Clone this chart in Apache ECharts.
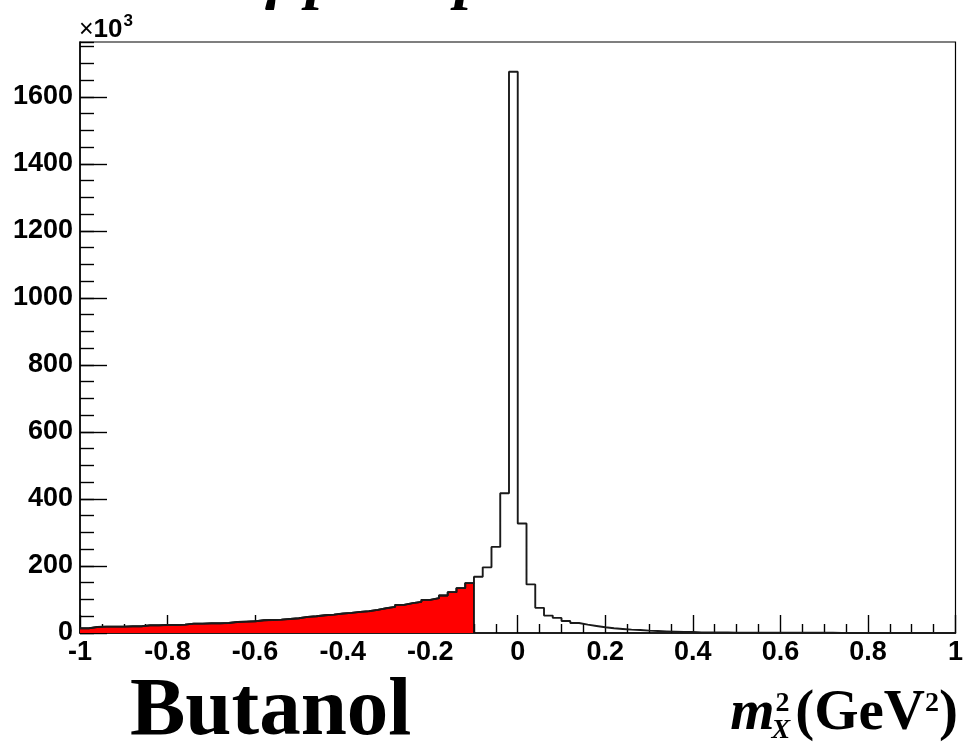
<!DOCTYPE html>
<html><head><meta charset="utf-8">
<script src="https://cdn.jsdelivr.net/npm/echarts@6/dist/echarts.min.js"></script>
<style>html,body{margin:0;padding:0;background:#fff}#c{width:966px;height:742px}</style>
</head><body><div id="c"></div>
<script>
// ---- data (counts in units of 10^3) ----
const xMin = -1, xMax = 1, binWidth = 0.02;
const redEdge = -0.1;
const counts = [
  14,
  18,19,19,19,20,20,
  23,23,24,24,25,
  28,28,29,29,30,
  33,34,35,
  38,39,40,
  42,44,
  48,50,
  53,55,
  58,60,
  63,65,
  69,74,78,84,89,93,99,104,112,122,134,149,
  168,196,257,417,1675,
  327,145,75,52,45,36,30,25,21,17,14,12,10,9,7,6,5,4,3,3,2,
  2,2,2,1,1,1,1,1,1,1,1,1,1,1,1,0,0,0,0,0,0,0,0,0,0,0,0,0,0
];
const yMajor = 200, yMinor = 50, yMax = 1764;
const xMajor = 0.2;
const yLabels = [0,200,400,600,800,1000,1200,1400,1600];
const titleText = ["γ", "p", "→", "p", "X"];
const targetText = "Butanol";
const multSign = "×", multBase = "10", multExp = "3";

// ---- build series ----
const edges = counts.map((_, i) => +(xMin + i * binWidth).toFixed(4));
const mainData = counts.map((c, i) => [edges[i], c]);
mainData.push([xMax, counts[counts.length - 1]]);
const nRed = Math.round((redEdge - xMin) / binWidth);
const redData = counts.slice(0, nRed).map((c, i) => [edges[i], c]);
redData.push([redEdge, counts[nRed - 1]], [redEdge, 0]);

const sansB = '"Liberation Sans", Arial, Helvetica, sans-serif';
const serif = '"Liberation Serif", "Times New Roman", Times, serif';

const mctx = document.createElement('canvas').getContext('2d');
function tw(t, font) { mctx.font = font; return mctx.measureText(t).width; }
function txt(t, x, baseline, font, size) {
  return { type: 'text', left: x, top: baseline - 0.81 * size, silent: true,
    style: { text: t, font: font, fill: '#000' } };
}

// axis-title pieces m^2_X(GeV^2)
const fBig = 'bold 57px ' + serif, fBigI = 'italic bold 57px ' + serif;
const fSm = 'bold 28px ' + serif, fSmI = 'italic bold 28px ' + serif;
const base = 732;
let wm = tw('m', fBigI), ws = Math.max(tw('2', fSm), tw('X', fSmI));
let wg = tw('(GeV', fBig), w2 = tw('2', fSm), wp = tw(')', fBig);
let total = wm + ws + 2 + wg + w2 + wp;
let x0 = 958 - total;
const pieces = [
  txt('m', x0, base, fBigI, 57),
  txt('2', x0 + wm + 1, base - 20, fSm, 28),
  txt('X', x0 + wm - 3, base + 7, fSmI, 28),
  txt('(GeV', x0 + wm + ws + 2, base, fBig, 57),
  txt('2', x0 + wm + ws + 2 + wg, base - 20, fSm, 28),
  txt(')', x0 + wm + ws + 2 + wg + w2, base, fBig, 57)
];

// multiplier ×10^3
const fMx = '25px ' + sansB, fM10 = 'bold 26px ' + sansB, fM3 = 'bold 17px ' + sansB;
const wx = tw(multSign, fMx), w10 = tw(multBase, fM10);
const mult = [
  txt(multSign, 79, 38, fMx, 25),
  txt(multBase, 79 + wx, 38, fM10, 26),
  txt(multExp, 79 + wx + w10 + 1, 27, fM3, 17)
];

// cut-off title at top (only descenders visible)
const fT = 'italic bold 64px ' + serif;
const title = [
  txt(titleText[0], 262, -1, fT, 64),
  txt(titleText[1], 306, -1, fT, 64),
  txt(titleText[2], 365, -1, fT, 64),
  txt(titleText[3], 455, -1, fT, 64),
  txt(titleText[4], 503, -1, fT, 64)
];

const chart = echarts.init(document.getElementById('c'), null, { renderer: 'canvas' });
chart.setOption({
  animation: false,
  backgroundColor: '#fff',
  grid: { left: 80, right: 8, top: 42, bottom: 109, show: true, borderColor: '#000', borderWidth: 1.2, backgroundColor: 'transparent' },
  xAxis: {
    type: 'value', min: xMin, max: xMax, interval: xMajor,
    axisLine: { onZero: false, lineStyle: { color: '#000', width: 1.5 } },
    axisTick: { inside: true, length: 18, lineStyle: { color: '#000', width: 1.4 } },
    minorTick: { show: true, splitNumber: 4, length: 9, lineStyle: { color: '#000', width: 1.4 } },
    splitLine: { show: false },
    axisLabel: { margin: 6, color: '#000', fontFamily: sansB, fontWeight: 'bold', fontSize: 27,
      formatter: v => String(Math.round(v * 10) / 10) }
  },
  yAxis: [{
    type: 'value', min: 0, max: yMax, interval: yMajor, position: 'left',
    axisLine: { show: true, onZero: false, lineStyle: { color: '#000', width: 1.5 } },
    axisTick: { show: true, inside: true, length: 27, lineStyle: { color: '#000', width: 1.4 } },
    splitLine: { show: false },
    axisLabel: { margin: 7, color: '#000', fontFamily: sansB, fontWeight: 'bold', fontSize: 27,
      showMaxLabel: false, formatter: v => (yLabels.indexOf(v) >= 0 ? String(v) : '') }
  }, {
    type: 'value', min: 0, max: yMax, interval: yMinor, position: 'left',
    axisLine: { show: false, onZero: false },
    axisTick: { show: true, inside: true, length: 14, lineStyle: { color: '#000', width: 1.4 } },
    splitLine: { show: false },
    axisLabel: { show: false }
  }],
  series: [{
    type: 'line', step: 'end', data: redData, symbol: 'none', yAxisIndex: 0, z: 3,
    lineStyle: { color: '#111', width: 1.8 },
    areaStyle: { color: '#ff0000', opacity: 1 }
  }, {
    type: 'line', step: 'end', data: mainData, symbol: 'none', yAxisIndex: 0, z: 4,
    lineStyle: { color: '#1a1a1a', width: 1.9 }
  }],
  graphic: [txt(targetText, 130, 738, 'bold 83px ' + serif, 83)].concat(mult, title, pieces)
});
</script></body></html>
